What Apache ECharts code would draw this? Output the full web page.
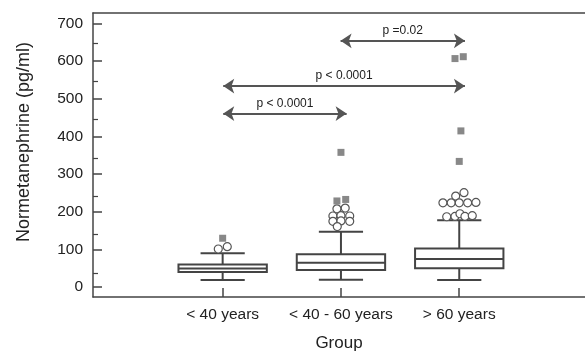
<!DOCTYPE html>
<html>
<head>
<meta charset="utf-8">
<script src="https://cdn.jsdelivr.net/npm/echarts@6/dist/echarts.min.js"></script>
<style>html,body{margin:0;padding:0;background:#fff;}#c{width:585px;height:357px;}</style>
</head>
<body>
<div id="c"></div>
<script>
// ---- data ----
const categories = ['< 40 years', '< 40 - 60 years', '> 60 years'];
const categoryPos = [1, 2, 3];
const yTicks = [0, 100, 200, 300, 400, 500, 600, 700];
const yMinorTicks = [50, 150, 250, 350, 450, 550, 650];
// [position, lowerWhisker, Q1, median, Q3, upperWhisker]
const boxes = [
  [1, 19, 40.5, 49.5, 60, 90],
  [2, 20, 46, 65, 87.5, 147],
  [3, 19, 50, 75, 102.5, 178]
];
// open circles (outliers)
const circles = [
  [0.963, 101.5], [1.039, 107.5],
  [1.966, 208], [2.036, 210],
  [1.932, 189], [2.0, 190], [2.074, 189],
  [1.932, 175], [2.0, 176], [2.074, 175],
  [1.969, 161],
  [3.04, 251], [2.97, 242],
  [2.862, 224], [2.932, 224], [3.0, 224], [3.071, 224], [3.141, 225],
  [2.894, 187], [2.964, 188], [3.006, 195], [3.048, 188], [3.11, 190]
];
// filled squares (extreme values)
const squares = [
  [1.0, 130],
  [1.966, 229], [2.04, 233], [2.0, 358],
  [2.964, 607], [3.034, 612], [3.014, 415], [3.0, 334]
];
// significance arrows: [x1, x2, y, label]
const arrows = [
  [1.997, 3.048, 654, 'p =0.02'],
  [1.005, 3.048, 534, 'p < 0.0001'],
  [1.005, 2.048, 461, 'p < 0.0001']
];
const yMin = -26, yMax = 728, xMin = -0.096, xMax = 4.063;

const FONT = 'Liberation Sans, Arial, Helvetica, sans-serif';
const AX = '#444';
const chart = echarts.init(document.getElementById('c'), null, {renderer: 'canvas'});

const boxStyle = {stroke: AX, lineWidth: 2, fill: 'none'};
function renderBox(params, api) {
  const x = api.value(0);
  const lo = api.coord([x, api.value(1)]);
  const q1 = api.coord([x, api.value(2)]);
  const med = api.coord([x, api.value(3)]);
  const q3 = api.coord([x, api.value(4)]);
  const hi = api.coord([x, api.value(5)]);
  const w = api.size([0.747, 0])[0];
  const cw = w / 2;
  const cx = med[0];
  return {
    type: 'group',
    children: [
      {type: 'line', shape: {x1: cx, y1: hi[1], x2: cx, y2: q3[1]}, style: boxStyle},
      {type: 'line', shape: {x1: cx, y1: lo[1], x2: cx, y2: q1[1]}, style: boxStyle},
      {type: 'line', shape: {x1: cx - cw / 2, y1: hi[1], x2: cx + cw / 2, y2: hi[1]}, style: boxStyle},
      {type: 'line', shape: {x1: cx - cw / 2, y1: lo[1], x2: cx + cw / 2, y2: lo[1]}, style: boxStyle},
      {type: 'rect', shape: {x: cx - w / 2, y: q3[1], width: w, height: q1[1] - q3[1]}, style: {stroke: AX, lineWidth: 2, fill: '#fff'}},
      {type: 'line', shape: {x1: cx - w / 2, y1: med[1], x2: cx + w / 2, y2: med[1]}, style: boxStyle}
    ]
  };
}

const option = {
  animation: false,
  backgroundColor: '#fff',
  grid: [
    {left: 93, top: 13, right: 0, bottom: 55},
    {left: 93, top: 13, right: 0, bottom: 55}
  ],
  xAxis: [
    {
      type: 'value', gridIndex: 0, min: xMin, max: xMax, position: 'bottom',
      name: 'Group', nameLocation: 'middle', nameGap: 38,
      nameTextStyle: {fontFamily: FONT, fontSize: 17, color: '#222'},
      splitLine: {show: false},
      axisLine: {show: true, onZero: false, lineStyle: {color: AX, width: 1.5}},
      axisTick: {show: true, inside: true, length: 9, customValues: categoryPos, lineStyle: {color: AX, width: 1.5}},
      axisLabel: {
        show: true, margin: 10, customValues: categoryPos,
        fontFamily: FONT, fontSize: 15.5, color: '#222',
        formatter: v => categories[categoryPos.indexOf(Math.round(v))] || ''
      }
    },
    {
      type: 'value', gridIndex: 1, min: xMin, max: xMax, position: 'top',
      splitLine: {show: false},
      axisLine: {show: true, onZero: false, lineStyle: {color: AX, width: 1.5}},
      axisTick: {show: false}, axisLabel: {show: false}
    }
  ],
  yAxis: [
    {
      type: 'value', gridIndex: 0, min: yMin, max: yMax, position: 'left',
      name: 'Normetanephrine (pg/ml)', nameLocation: 'middle', nameGap: 60,
      nameTextStyle: {fontFamily: FONT, fontSize: 18, color: '#222', padding: [0, 0, 0, 26]},
      splitLine: {show: false},
      axisLine: {show: true, onZero: false, lineStyle: {color: AX, width: 1.5}},
      axisTick: {show: true, inside: true, length: 9, customValues: yTicks, lineStyle: {color: AX, width: 1.5}},
      axisLabel: {show: true, margin: 10, customValues: yTicks, fontFamily: FONT, fontSize: 15.5, color: '#222'}
    },
    {
      type: 'value', gridIndex: 1, min: yMin, max: yMax, position: 'left',
      splitLine: {show: false},
      axisLine: {show: false, onZero: false},
      axisTick: {show: true, inside: true, length: 5, customValues: yMinorTicks, lineStyle: {color: AX, width: 1.2}},
      axisLabel: {show: false}
    }
  ],
  series: [
    {
      type: 'custom', xAxisIndex: 0, yAxisIndex: 0,
      renderItem: renderBox,
      encode: {x: 0, y: [1, 2, 3, 4, 5]},
      data: boxes, z: 2
    },
    {
      type: 'scatter', xAxisIndex: 0, yAxisIndex: 0,
      symbol: 'circle', symbolSize: 8,
      itemStyle: {color: '#fff', borderColor: '#555', borderWidth: 1.2, opacity: 1},
      data: circles, z: 3
    },
    {
      type: 'scatter', xAxisIndex: 0, yAxisIndex: 0,
      symbol: 'rect', symbolSize: 7,
      itemStyle: {color: '#888', opacity: 1},
      data: squares, z: 3
    },
    {
      type: 'lines', coordinateSystem: 'cartesian2d', xAxisIndex: 0, yAxisIndex: 0,
      symbol: ['arrow', 'arrow'], symbolSize: 11,
      lineStyle: {color: '#555', width: 2, opacity: 1, curveness: 0},
      label: {show: true, position: 'middle', distance: 4, fontFamily: FONT, fontSize: 12, color: '#222',
        formatter: p => p.name},
      data: arrows.map(a => ({name: a[3], coords: [[a[0], a[2]], [a[1], a[2]]]})),
      z: 4
    }
  ]
};
chart.setOption(option);
</script>
</body>
</html>
